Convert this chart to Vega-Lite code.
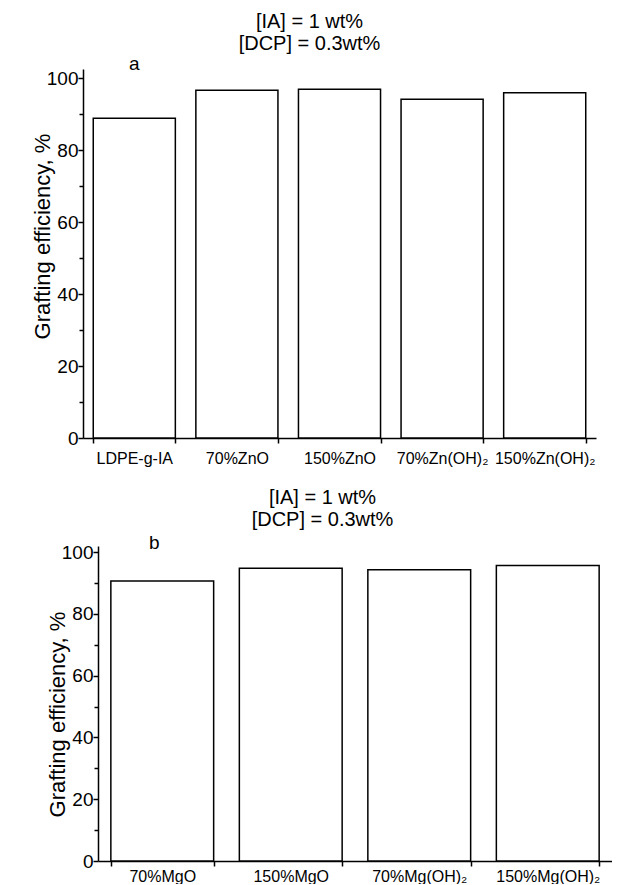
{
  "$schema": "https://vega.github.io/schema/vega-lite/v6.json",
  "background": "white",
  "padding": {"left": 31, "top": 12, "right": 0, "bottom": 0},
  "config": {
    "font": "Liberation Sans",
    "view": {"stroke": null},
    "axis": {
      "domainColor": "black", "tickColor": "black", "labelColor": "black", "titleColor": "black",
      "domainWidth": 1.5, "tickWidth": 1.5, "grid": false,
      "labelFont": "Liberation Sans", "titleFont": "Liberation Sans", "titleFontWeight": "normal"
    },
    "title": {"font": "Liberation Sans", "fontWeight": "normal", "fontSize": 20, "color": "black"}
  },
  "spacing": 22,
  "datasets": {
    "zn": [
      {"sample": "LDPE-g-IA", "eff": 88.8},
      {"sample": "70%ZnO", "eff": 96.6},
      {"sample": "150%ZnO", "eff": 96.9},
      {"sample": "70%Zn(OH)₂", "eff": 94.1},
      {"sample": "150%Zn(OH)₂", "eff": 95.9}
    ],
    "mg": [
      {"sample": "70%MgO", "eff": 90.7},
      {"sample": "150%MgO", "eff": 94.8},
      {"sample": "70%Mg(OH)₂", "eff": 94.3},
      {"sample": "150%Mg(OH)₂", "eff": 95.7}
    ],
    "la": [{"label": "a", "sample": "LDPE-g-IA"}],
    "lb": [{"label": "b", "sample": "70%MgO"}]
  },
  "vconcat": [
    {
      "width": 513,
      "height": 369,
      "title": {"text": ["[IA] = 1 wt%", "[DCP] = 0.3wt%"], "anchor": "middle", "frame": "group", "dx": -30, "lineHeight": 22, "offset": 1},
      "resolve": {"axis": {"y": "independent"}},
      "layer": [
        {
          "data": {"name": "zn"},
          "mark": {"type": "bar", "fill": "white", "stroke": "black", "strokeWidth": 1.5},
          "encoding": {
            "x": {"field": "sample", "type": "nominal", "sort": null,
                  "scale": {"paddingInner": 0.2, "paddingOuter": 0.1},
                  "axis": {"title": null, "labelAngle": 0, "tickBand": "extent", "labelFontSize": 16, "labelPadding": 7, "tickSize": 5, "labelOverlap": false, "labelBound": false}},
            "y": {"field": "eff", "type": "quantitative",
                  "scale": {"domain": [0, 102.5], "nice": false, "zero": true},
                  "axis": {"title": "Grafting efficiency, %", "titleFontSize": 22, "titlePadding": -8, "titleY": 167, "values": [0, 20, 40, 60, 80, 100], "labelFontSize": 19, "tickSize": 5, "labelPadding": 0}}
          }
        },
        {
          "data": {"name": "la"},
          "mark": {"type": "text", "fontSize": 19, "baseline": "bottom", "dx": 0, "dy": 5},
          "encoding": {
            "text": {"field": "label"},
            "x": {"field": "sample", "type": "nominal", "sort": null},
            "y": {"datum": 102.5, "type": "quantitative",
                  "axis": {"orient": "left", "title": null, "values": [10, 30, 50, 70, 90], "labels": false, "domain": false, "tickSize": 4}}
          }
        }
      ]
    },
    {
      "width": 529,
      "height": 315,
      "title": {"text": ["[IA] = 1 wt%", "[DCP] = 0.3wt%"], "anchor": "middle", "frame": "group", "dx": -25, "lineHeight": 22, "offset": 4},
      "resolve": {"axis": {"y": "independent"}},
      "layer": [
        {
          "data": {"name": "mg"},
          "mark": {"type": "bar", "fill": "white", "stroke": "black", "strokeWidth": 1.5},
          "encoding": {
            "x": {"field": "sample", "type": "nominal", "sort": null,
                  "scale": {"paddingInner": 0.2, "paddingOuter": 0.1, "range": [15, 529]},
                  "axis": {"title": null, "labelAngle": 0, "tickBand": "extent", "labelFontSize": 16, "labelPadding": 2, "tickSize": 5, "labelOverlap": false, "labelBound": false}},
            "y": {"field": "eff", "type": "quantitative",
                  "scale": {"domain": [0, 102], "nice": false, "zero": true},
                  "axis": {"title": "Grafting efficiency, %", "titleFontSize": 22, "titlePadding": -8, "titleY": 168, "values": [0, 20, 40, 60, 80, 100], "labelFontSize": 19, "tickSize": 5, "labelPadding": 0, "offset": -15}}
          }
        },
        {
          "data": {"name": "lb"},
          "mark": {"type": "text", "fontSize": 19, "baseline": "bottom", "dx": -8, "dy": 7},
          "encoding": {
            "text": {"field": "label"},
            "x": {"field": "sample", "type": "nominal", "sort": null},
            "y": {"datum": 102, "type": "quantitative",
                  "axis": {"orient": "left", "title": null, "values": [10, 30, 50, 70, 90], "labels": false, "domain": false, "tickSize": 4, "offset": -15}}
          }
        }
      ]
    }
  ]
}
